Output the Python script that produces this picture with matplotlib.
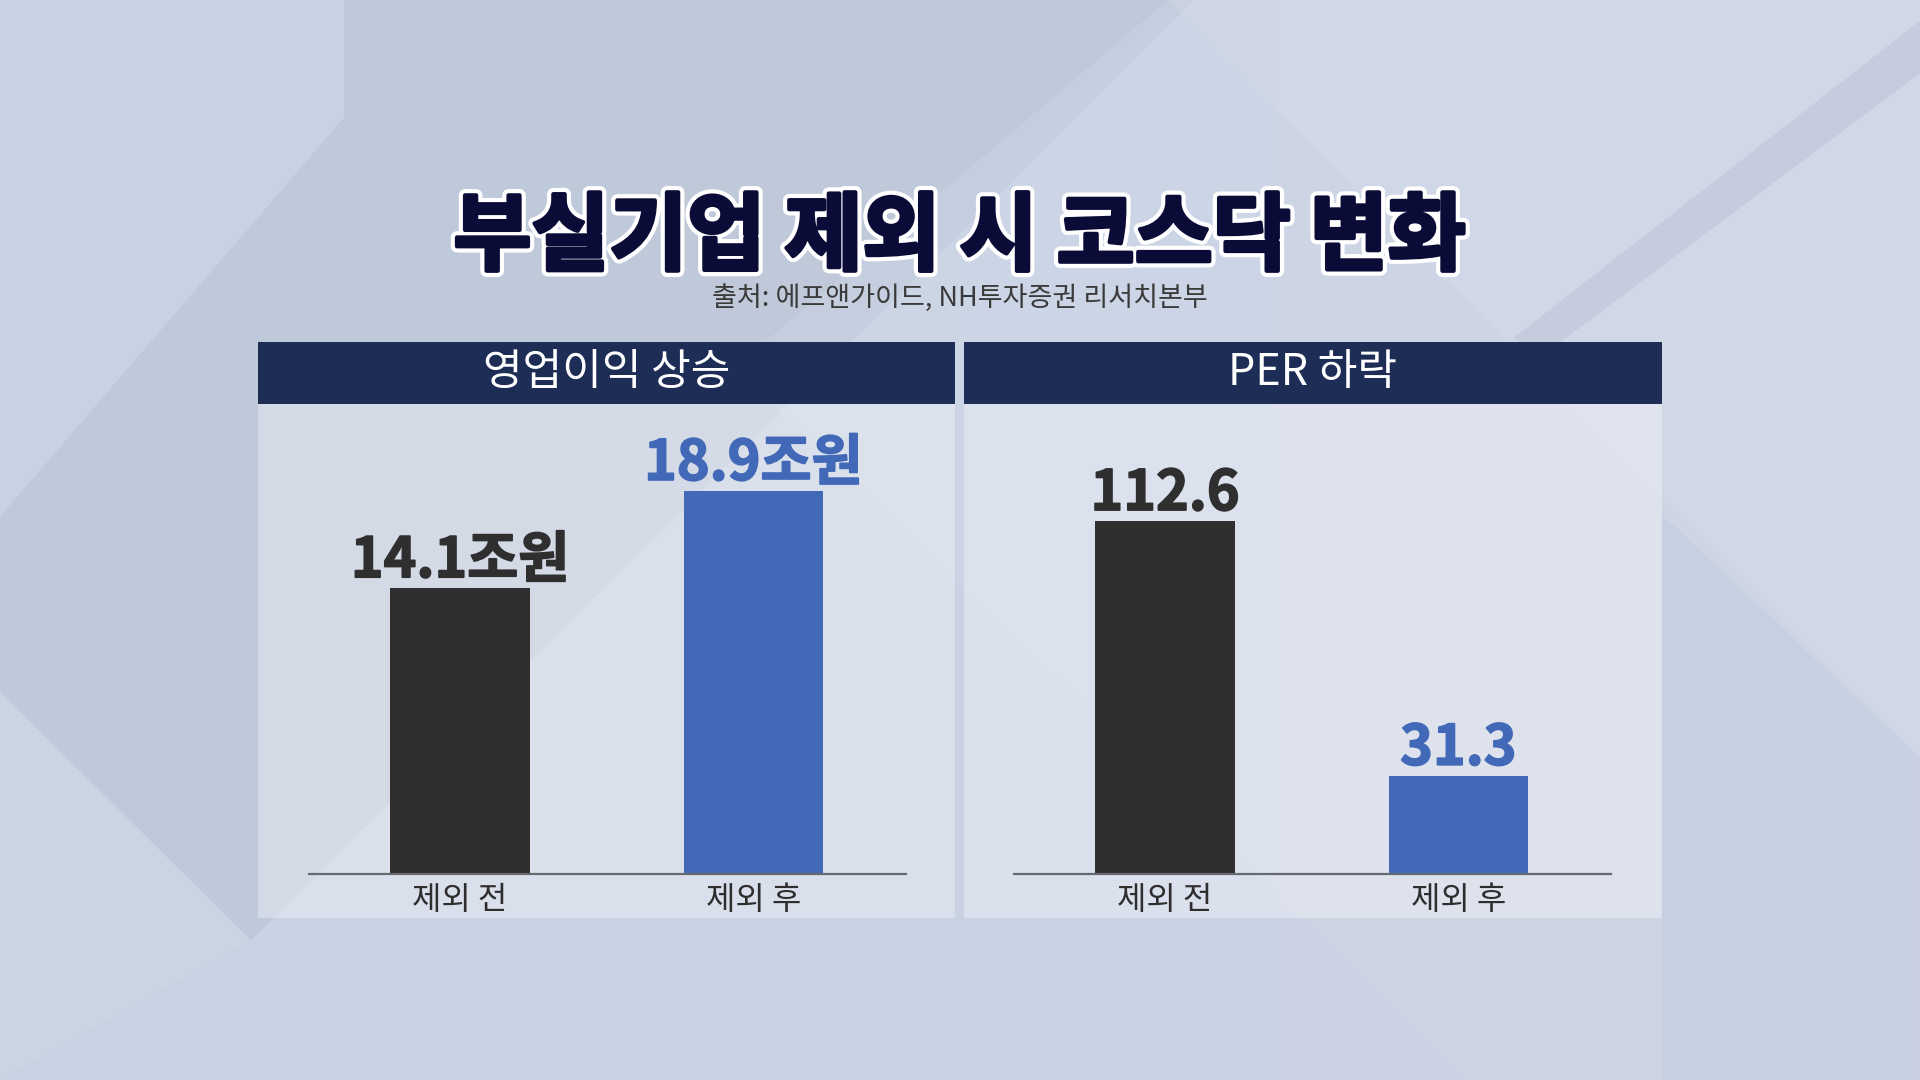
import matplotlib
matplotlib.use("Agg")
import matplotlib.pyplot as plt
import matplotlib.patheffects as pe
from matplotlib.patches import Polygon, Rectangle
import numpy as np

plt.rcParams['font.family'] = ['Noto Sans CJK KR', 'DejaVu Sans']

# data
title = "부실기업 제외 시 코스닥 변화"
source = "출처: 에프앤가이드, NH투자증권 리서치본부"
categories = ["제외 전", "제외 후"]
panel_titles = ["영업이익 상승", "PER 하락"]
op_profit = [14.1, 18.9]          # 조원
op_labels = ["14.1조원", "18.9조원"]
per_values = [112.6, 31.3]
per_labels = ["112.6", "31.3"]

bar_colors = ["#2f2f2f", "#4169b8"]
navy = "#1e2d55"

W, H = 1920, 1080
fig = plt.figure(figsize=(W / 100, H / 100), dpi=100)

# background layer in pixel coords
bg = fig.add_axes([0, 0, 1, 1])
bg.set_xlim(0, W)
bg.set_ylim(H, 0)
bg.axis("off")
grad = np.linspace(0, 1, 256).reshape(1, -1)
bg.imshow(np.vstack([grad] * 2), extent=[0, W, H, 0], aspect="auto",
          cmap=matplotlib.colors.LinearSegmentedColormap.from_list("bg", ["#c8d2e2", "#cbd2e4"]))

s = W / 1568.0
def poly(pts, color, alpha):
    bg.add_patch(Polygon([(x * s, y * s) for x, y in pts], closed=True,
                         facecolor=color, edgecolor="none", alpha=alpha))

poly([(281, 0), (975, 0), (205, 768), (0, 565), (0, 422), (281, 96)], "#aab6ca", 0.32)
poly([(975, 0), (1568, 0), (1568, 619), (954, 0)], "#d8dfec", 0.45)
poly([(954, 0), (1568, 619), (1568, 882), (1200, 882), (600, 300)], "#d6dcea", 0.3)
poly([(1568, 17), (1236, 276), (1260, 290), (1568, 60)], "#b3bdd0", 0.4)
poly([(1357, 420), (1568, 619), (1568, 882), (1357, 882)], "#bcc6d8", 0.3)
poly([(0, 565), (205, 768), (0, 882)], "#d0d8e6", 0.35)

# panels
panels = [(258, 955), (964, 1662)]
for (x0, x1), name in zip(panels, panel_titles):
    bg.add_patch(Rectangle((x0, 404), x1 - x0, 918 - 404, facecolor="white",
                           edgecolor="none", alpha=0.33))
    bg.add_patch(Rectangle((x0, 342), x1 - x0, 62, facecolor=navy, edgecolor="none"))
    bg.text((x0 + x1) / 2, 373, name, color="white", fontsize=31, fontweight="medium",
            ha="center", va="center")

# title + source
title_color = "#0b0b38"
bg.text(W / 2, 238, title, color=title_color, fontsize=61, fontweight="black",
        ha="center", va="center",
        path_effects=[pe.Stroke(linewidth=9, foreground="white"),
                      pe.Stroke(linewidth=3, foreground=title_color), pe.Normal()])
bg.text(W / 2, 298, source, color="#3a3a3a", fontsize=19.5, fontweight="medium",
        ha="center", va="center")

# bar axes
def bar_panel(left_px, values, labels, ytop):
    ax = fig.add_axes([left_px / W, (H - 874) / H, 597 / W, 470 / H])
    ax.patch.set_alpha(0)
    x = np.arange(len(values))
    ax.bar(x, values, width=0.475, color=bar_colors)
    ax.set_xlim(-0.515, 1.52)
    ax.set_ylim(0, ytop)
    for side in ["top", "left", "right"]:
        ax.spines[side].set_visible(False)
    ax.spines["bottom"].set_color("#666a70")
    ax.spines["bottom"].set_linewidth(1.6)
    ax.set_yticks([])
    ax.set_xticks(x)
    ax.set_xticklabels(categories, fontsize=23, color="#2e2e2e", fontweight="medium")
    ax.tick_params(axis="x", length=0, pad=7)
    for xi, v, lab, c in zip(x, values, labels, bar_colors):
        ax.annotate(lab, (xi, v), xytext=(0, 8), textcoords="offset points",
                    ha="center", va="baseline", fontsize=40, fontweight="bold", color=c,
                    path_effects=[pe.Stroke(linewidth=1.2, foreground=c), pe.Normal()])
    return ax

bar_panel(309, op_profit, op_labels, 23.2)
bar_panel(1014, per_values, per_labels, 150)

fig.savefig("out.png", dpi=100)
